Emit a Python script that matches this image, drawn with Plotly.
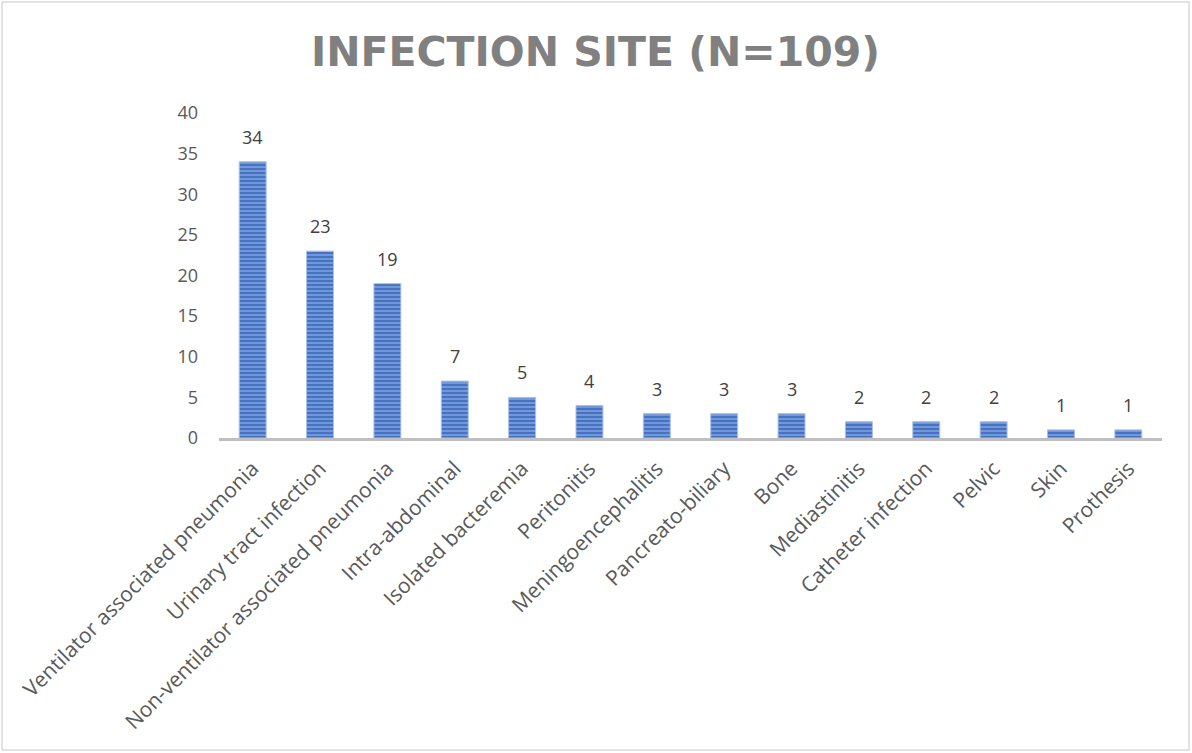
import plotly.graph_objects as go

categories = ["Ventilator associated pneumonia", "Urinary tract infection",
              "Non-ventilator associated pneumonia", "Intra-abdominal",
              "Isolated bacteremia", "Peritonitis", "Meningoencephalitis",
              "Pancreato-biliary", "Bone", "Mediastinitis", "Catheter infection",
              "Pelvic", "Skin", "Prothesis"]
counts = [34, 23, 19, 7, 5, 4, 3, 3, 3, 2, 2, 2, 1, 1]
y_ticks = [0, 5, 10, 15, 20, 25, 30, 35, 40]

W, H = 1192, 753
ml, mr, mt, mb = 219, 30, 113, 315

fig = go.Figure(go.Bar(
    x=categories, y=counts, width=0.4,
    marker=dict(color="#4472C4",
                line=dict(color="#A9BFE8", width=1),
                pattern=dict(shape="-", fgcolor="#A3BBE6", bgcolor="#4472C4",
                             size=4, solidity=0.5, fillmode="overlay")),
))

for c, v in zip(categories, counts):
    fig.add_annotation(x=c, y=v, text=str(v), showarrow=False,
                       yanchor="bottom", yshift=11,
                       font=dict(family="Open Sans", size=18, color="#404040"))

pw, ph = W - ml - mr, H - mt - mb
fig.add_shape(type="rect", xref="paper", yref="paper",
              x0=(2 - ml) / pw, x1=(W - 3 - ml) / pw,
              y0=-(H - 3 - mt - ph) / ph, y1=1 + (mt - 2) / ph,
              line=dict(color="#D9D9D9", width=1.5), fillcolor="rgba(0,0,0,0)")

fig.update_layout(
    width=W, height=H,
    margin=dict(l=ml, r=mr, t=mt, b=mb, autoexpand=False),
    paper_bgcolor="white", plot_bgcolor="white",
    title=dict(text="INFECTION SITE (N=109)", x=595.5 / W, xref="container",
               xanchor="center", y=1 - 52 / H, yref="container", yanchor="middle",
               font=dict(family="DejaVu Sans", size=41, color="#808080", weight="bold")),
    showlegend=False,
)
fig.update_yaxes(range=[0, 40], tickvals=y_ticks, showgrid=False, zeroline=False,
                 showline=False, ticks="", ticklabelstandoff=20,
                 tickfont=dict(family="Open Sans", size=18, color="#595959"))
fig.update_xaxes(tickangle=-45, showgrid=False, showline=True, linecolor="#BFBFBF",
                 linewidth=3, ticks="", ticklabelstandoff=7,
                 tickfont=dict(family="Open Sans", size=21, color="#595959"))

fig.write_html("out.html", config={"displayModeBar": False},
               post_script="document.body.style.margin='0';")
